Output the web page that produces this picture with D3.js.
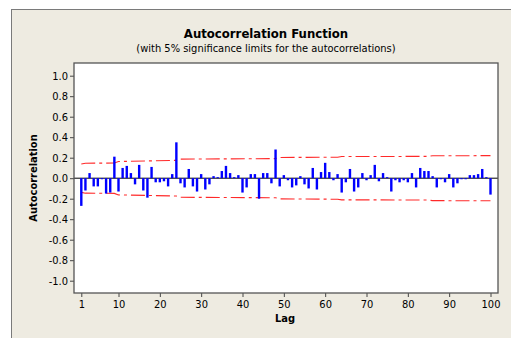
<!doctype html>
<html lang="en">
<head>
	<meta charset="UTF-8">
	<title>Autocorrelation Function</title>
	<script src="https://d3js.org/d3.v7.min.js"></script>
	<style>
		body {
			margin: 0;
			padding: 0;
			background: #fff;
		}
		svg {
			display: block;
		}
		text {
			font-family: "DejaVu Sans Condensed", "DejaVu Sans", sans-serif;
			font-stretch: condensed;
			fill: #000;
		}
	</style>
</head>
<body>
	<div id="chart"></div>

	<script>
		// Data
		const lags = d3.range(1, 101);

		const acf = [
			-0.27, -0.12, 0.05, -0.08, -0.08, -0.01, -0.15, -0.14, 0.21, -0.13,
			0.10, 0.12, 0.05, -0.06, 0.13, -0.12, -0.19, 0.11, -0.04, -0.04,
			-0.03, -0.08, 0.04, 0.35, -0.05, -0.09, 0.09, -0.08, -0.13, 0.04,
			-0.11, -0.06, 0.02, 0.01, 0.07, 0.12, 0.05, 0.01, 0.03, -0.14,
			-0.09, 0.04, 0.04, -0.20, 0.05, 0.05, -0.05, 0.28, -0.08, 0.03,
			-0.02, -0.09, -0.07, 0.02, -0.06, -0.10, 0.10, -0.11, 0.06, 0.15,
			0.06, -0.02, 0.04, -0.14, -0.04, 0.09, -0.13, -0.09, 0.05, -0.02,
			0.03, 0.13, -0.03, 0.05, 0.01, -0.13, -0.02, -0.04, -0.02, -0.04,
			0.05, -0.09, 0.10, 0.07, 0.07, 0.02, -0.09, -0.01, -0.04, 0.04,
			-0.09, -0.05, -0.01, -0.01, 0.03, 0.03, 0.04, 0.09, 0.01, -0.16
		];

		// 5% significance limits (upper; lower is the mirror)
		const limitLags = [1, 2, 9, 10, 24, 25, 48, 49, 63, 64, 85, 86, 100];
		const limitVals = [0.138, 0.146, 0.148, 0.163, 0.174, 0.186, 0.191, 0.202, 0.205, 0.211, 0.213, 0.219, 0.220];

		const xTicks = [1, 10, 20, 30, 40, 50, 60, 70, 80, 90, 100];
		const yTicks = [-1.0, -0.8, -0.6, -0.4, -0.2, 0.0, 0.2, 0.4, 0.6, 0.8, 1.0];

		const title = 'Autocorrelation Function';
		const subtitle = '(with 5% significance limits for the autocorrelations)';
		const xLabel = 'Lag';
		const yLabel = 'Autocorrelation';

		// Canvas
		const width = 511;
		const height = 338;

		// Plot box
		const box = { left: 74, right: 498, top: 63, bottom: 293 };

		const x = d3.scaleLinear()
			.domain([1, 100])
			.range([81.3, 490.5]);

		const y = d3.scaleLinear()
			.domain([-1, 1])
			.range([280.7, 75.7]);

		const svg = d3.select('#chart')
			.append('svg')
			.attr('width', width)
			.attr('height', height);

		// Beige panel
		svg.append('rect')
			.attr('x', 11.5)
			.attr('y', 9.5)
			.attr('width', width + 10)
			.attr('height', height + 10)
			.attr('fill', '#eeebe1')
			.attr('stroke', '#7a7a7a')
			.attr('stroke-width', 1);

		// Plot area
		svg.append('rect')
			.attr('x', box.left)
			.attr('y', box.top)
			.attr('width', box.right - box.left)
			.attr('height', box.bottom - box.top)
			.attr('fill', '#fff');

		// Titles
		svg.append('text')
			.attr('x', 266)
			.attr('y', 38)
			.attr('text-anchor', 'middle')
			.attr('font-size', 13)
			.attr('font-weight', 'bold')
			.text(title);

		svg.append('text')
			.attr('x', 266)
			.attr('y', 52)
			.attr('text-anchor', 'middle')
			.attr('font-size', 11)
			.text(subtitle);

		// Axes
		const xAxis = d3.axisBottom(x)
			.tickValues(xTicks)
			.tickSize(4)
			.tickPadding(3);

		const gx = svg.append('g')
			.attr('transform', 'translate(0,' + box.bottom + ')')
			.call(xAxis);

		const yAxis = d3.axisLeft(y)
			.tickValues(yTicks)
			.tickFormat(d3.format('.1f'))
			.tickSize(4)
			.tickPadding(2);

		const gy = svg.append('g')
			.attr('transform', 'translate(' + box.left + ',0)')
			.call(yAxis);

		[gx, gy].forEach((g) => {
			g.select('.domain').remove();
			g.selectAll('.tick line').attr('stroke', '#444');
			g.selectAll('.tick text')
				.attr('font-size', 11)
				.attr('font-family', null)
				.attr('fill', '#000');
		});
		gy.selectAll('.tick text').text((d) => d3.format('.1f')(d).replace('−', '-'));

		// Axis labels
		svg.append('text')
			.attr('x', 285)
			.attr('y', 322)
			.attr('text-anchor', 'middle')
			.attr('font-size', 11)
			.attr('font-weight', 'bold')
			.text(xLabel);

		svg.append('text')
			.attr('transform', 'translate(37,' + ((box.top + box.bottom) / 2) + ') rotate(-90)')
			.attr('text-anchor', 'middle')
			.attr('font-size', 11)
			.attr('font-weight', 'bold')
			.text(yLabel);

		// Zero line
		svg.append('line')
			.attr('x1', box.left)
			.attr('x2', box.right)
			.attr('y1', y(0))
			.attr('y2', y(0))
			.attr('stroke', '#000')
			.attr('stroke-width', 1);

		// Significance limits
		const limits = limitLags.map((l, i) => ({ lag: l, val: limitVals[i] }));

		const limitLine = d3.line()
			.x((d) => x(d.lag));

		[1, -1].forEach((sign) => {
			svg.append('path')
				.datum(limits)
				.attr('d', limitLine.y((d) => y(sign * d.val)))
				.attr('fill', 'none')
				.attr('stroke', '#ff2a2a')
				.attr('stroke-width', 1.1)
				.attr('stroke-dasharray', '14,4,3,4');
		});

		// Bars
		svg.selectAll('.bar')
			.data(lags)
			.enter()
			.append('rect')
			.attr('class', 'bar')
			.attr('x', (d) => x(d) - 1.2)
			.attr('width', 2.4)
			.attr('y', (d, i) => y(Math.max(0, acf[i])))
			.attr('height', (d, i) => Math.abs(y(acf[i]) - y(0)))
			.attr('fill', '#0000ff');

		// Plot frame
		svg.append('rect')
			.attr('x', box.left)
			.attr('y', box.top)
			.attr('width', box.right - box.left)
			.attr('height', box.bottom - box.top)
			.attr('fill', 'none')
			.attr('stroke', '#555')
			.attr('stroke-width', 1.3);
	</script>
</body>
</html>
